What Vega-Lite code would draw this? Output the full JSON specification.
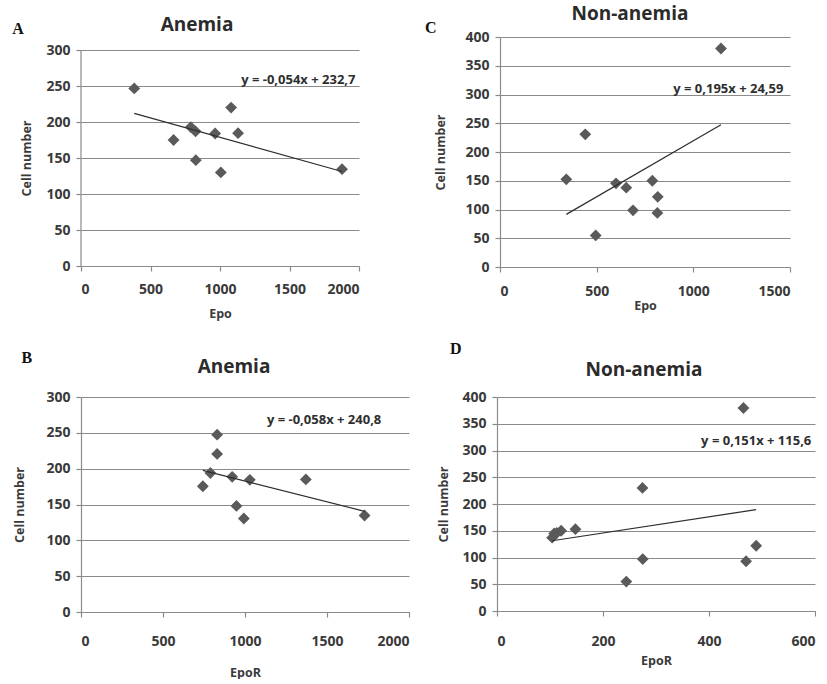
{
  "$schema": "https://vega.github.io/schema/vega-lite/v6.json",
  "padding": {"left": 12, "top": 5, "right": 0, "bottom": 0},
  "background": "white",
  "config": {
    "view": {"stroke": null},
    "font": "Open Sans",
    "title": {"font": "Open Sans", "fontSize": 19, "fontWeight": "bold", "color": "#2b2b2b", "frame": "group", "anchor": "middle"},
    "axis": {"labelFont": "Open Sans", "labelFontWeight": "bold", "labelFontSize": 14, "labelColor": "#3a3a3a", "titleFont": "Open Sans", "titleFontWeight": "bold", "titleFontSize": 12.5, "titleColor": "#3a3a3a", "domainColor": "#8a8a8a", "tickColor": "#8a8a8a", "gridColor": "#8a8a8a", "gridWidth": 1.2, "domainWidth": 1.2, "tickWidth": 1.2, "format": "d", "labelOverlap": false},
    "axisX": {"grid": false, "tickSize": 5, "labelPadding": 15, "titlePadding": 11},
    "axisY": {"grid": true, "tickSize": 5, "labelPadding": 6, "titlePadding": 7}
  },
  "datasets": {
    "a": [{"Epo": 383, "Cell": 246.6}, {"Epo": 666, "Cell": 175}, {"Epo": 790, "Cell": 193}, {"Epo": 824, "Cell": 187}, {"Epo": 826, "Cell": 147}, {"Epo": 965, "Cell": 184}, {"Epo": 1006, "Cell": 130}, {"Epo": 1080, "Cell": 220}, {"Epo": 1130, "Cell": 184.5}, {"Epo": 1878, "Cell": 134.5}],
    "aTrend": [{"Epo": 383, "Cell": 212.0}, {"Epo": 1878, "Cell": 131.3}],
    "c": [{"Epo": 343, "Cell": 152.5}, {"Epo": 441, "Cell": 230.7}, {"Epo": 495, "Cell": 55}, {"Epo": 600, "Cell": 145.5}, {"Epo": 653, "Cell": 138}, {"Epo": 688, "Cell": 98.6}, {"Epo": 788, "Cell": 150}, {"Epo": 816, "Cell": 122}, {"Epo": 814, "Cell": 94}, {"Epo": 1143, "Cell": 380}],
    "cTrend": [{"Epo": 343, "Cell": 91.5}, {"Epo": 1143, "Cell": 247.5}],
    "b": [{"EpoR": 743, "Cell": 175.5}, {"EpoR": 789, "Cell": 194}, {"EpoR": 830, "Cell": 247.5}, {"EpoR": 830, "Cell": 220.6}, {"EpoR": 922, "Cell": 188.6}, {"EpoR": 948, "Cell": 148}, {"EpoR": 993, "Cell": 130.5}, {"EpoR": 1029.5, "Cell": 184.4}, {"EpoR": 1371, "Cell": 185}, {"EpoR": 1729, "Cell": 134.7}],
    "bTrend": [{"EpoR": 743, "Cell": 197.7}, {"EpoR": 1729, "Cell": 140.5}],
    "d": [{"EpoR": 104, "Cell": 137}, {"EpoR": 108, "Cell": 145}, {"EpoR": 113, "Cell": 146}, {"EpoR": 121, "Cell": 150}, {"EpoR": 148, "Cell": 153}, {"EpoR": 244, "Cell": 55}, {"EpoR": 274.5, "Cell": 230}, {"EpoR": 275, "Cell": 97}, {"EpoR": 465, "Cell": 379.5}, {"EpoR": 470, "Cell": 93}, {"EpoR": 489, "Cell": 122}],
    "dTrend": [{"EpoR": 104, "Cell": 131.3}, {"EpoR": 489, "Cell": 189.4}],
    "one": [{"n": 1}]
  },
  "vconcat": [
    {
      "hconcat": [
        {
          "width": 278, "height": 229,
          "title": {"text": "Anemia", "offset": -14, "dx": -23},
          "layer": [
            {"data": {"name": "a"}, "mark": {"type": "point", "shape": "diamond", "filled": true, "size": 140, "color": "#5a5a5a", "opacity": 1},
             "encoding": {
               "x": {"field": "Epo", "type": "quantitative", "scale": {"domain": [0, 2000], "nice": false}, "axis": {"values": [0, 500, 1000, 1500, 2000], "title": "Epo", "labelPadding": 11}},
               "y": {"field": "Cell", "type": "quantitative", "scale": {"domain": [0, 318.06], "nice": false}, "axis": {"values": [0, 50, 100, 150, 200, 250, 300], "title": "Cell number", "domain": false, "titleY": 121, "titlePadding": 12}}}},
            {"data": {"name": "one"}, "mark": {"type": "rule", "color": "#8a8a8a", "strokeWidth": 1.2},
             "encoding": {"x": {"datum": 0, "type": "quantitative", "axis": {"values": [0, 500, 1000, 1500, 2000], "title": "Epo", "labelPadding": 11}}, "y": {"datum": 0, "type": "quantitative", "axis": {"values": [0, 50, 100, 150, 200, 250, 300], "title": "Cell number", "domain": false, "titleY": 121, "titlePadding": 12}}, "y2": {"datum": 300}}},
            {"data": {"name": "aTrend"}, "mark": {"type": "line", "color": "#2e2e2e", "strokeWidth": 1.2},
             "encoding": {"x": {"field": "Epo", "type": "quantitative", "axis": {"values": [0, 500, 1000, 1500, 2000], "title": "Epo", "labelPadding": 11}}, "y": {"field": "Cell", "type": "quantitative", "axis": {"values": [0, 50, 100, 150, 200, 250, 300], "title": "Cell number", "domain": false, "titleY": 121, "titlePadding": 12}}}},
            {"data": {"name": "one"}, "mark": {"type": "text", "align": "right", "baseline": "middle", "font": "Open Sans", "fontWeight": "bold", "fontSize": 13, "color": "#2e2e2e"},
             "encoding": {"x": {"datum": 1975, "type": "quantitative", "axis": {"values": [0, 500, 1000, 1500, 2000], "title": "Epo", "labelPadding": 11}}, "y": {"datum": 258, "type": "quantitative", "axis": {"values": [0, 50, 100, 150, 200, 250, 300], "title": "Cell number", "domain": false, "titleY": 121, "titlePadding": 12}}, "text": {"value": "y = -0,054x + 232,7"}}},
            {"data": {"name": "one"}, "mark": {"type": "text", "align": "center", "baseline": "middle", "font": "Liberation Serif", "fontWeight": "bold", "fontSize": 16, "color": "#111"},
             "encoding": {"x": {"datum": -453, "type": "quantitative", "axis": {"values": [0, 500, 1000, 1500, 2000], "title": "Epo", "labelPadding": 11}}, "y": {"datum": 329, "type": "quantitative", "axis": {"values": [0, 50, 100, 150, 200, 250, 300], "title": "Cell number", "domain": false, "titleY": 121, "titlePadding": 12}}, "text": {"value": "A"}}}
          ]
        },
        {
          "width": 290, "height": 230,
          "title": {"text": "Non-anemia", "offset": -4, "dx": -15},
          "layer": [
            {"data": {"name": "c"}, "mark": {"type": "point", "shape": "diamond", "filled": true, "size": 140, "color": "#5a5a5a", "opacity": 1},
             "encoding": {
               "x": {"field": "Epo", "type": "quantitative", "scale": {"domain": [0, 1500], "nice": false}, "axis": {"values": [0, 500, 1000, 1500], "title": "Epo", "labelPadding": 12, "titlePadding": 1}},
               "y": {"field": "Cell", "type": "quantitative", "scale": {"domain": [0, 400], "nice": false}, "axis": {"values": [0, 50, 100, 150, 200, 250, 300, 350, 400], "title": "Cell number", "titlePadding": 17}}}},
            {"data": {"name": "cTrend"}, "mark": {"type": "line", "color": "#2e2e2e", "strokeWidth": 1.2},
             "encoding": {"x": {"field": "Epo", "type": "quantitative", "axis": {"values": [0, 500, 1000, 1500], "title": "Epo", "labelPadding": 12, "titlePadding": 1}}, "y": {"field": "Cell", "type": "quantitative", "axis": {"values": [0, 50, 100, 150, 200, 250, 300, 350, 400], "title": "Cell number", "titlePadding": 17}}}},
            {"data": {"name": "one"}, "mark": {"type": "text", "align": "right", "baseline": "middle", "font": "Open Sans", "fontWeight": "bold", "fontSize": 13, "color": "#2e2e2e"},
             "encoding": {"x": {"datum": 1466, "type": "quantitative", "axis": {"values": [0, 500, 1000, 1500], "title": "Epo", "labelPadding": 12, "titlePadding": 1}}, "y": {"datum": 309, "type": "quantitative", "axis": {"values": [0, 50, 100, 150, 200, 250, 300, 350, 400], "title": "Cell number", "titlePadding": 17}}, "text": {"value": "y = 0,195x + 24,59"}}},
            {"data": {"name": "one"}, "mark": {"type": "text", "align": "center", "baseline": "middle", "font": "Liberation Serif", "fontWeight": "bold", "fontSize": 16, "color": "#111"},
             "encoding": {"x": {"datum": -358, "type": "quantitative", "axis": {"values": [0, 500, 1000, 1500], "title": "Epo", "labelPadding": 12, "titlePadding": 1}}, "y": {"datum": 415, "type": "quantitative", "axis": {"values": [0, 50, 100, 150, 200, 250, 300, 350, 400], "title": "Cell number", "titlePadding": 17}}, "text": {"value": "C"}}}
          ]
        }
      ],
      "spacing": 65
    },
    {
      "hconcat": [
        {
          "width": 328, "height": 215,
          "title": {"text": "Anemia", "offset": -27, "dx": -11},
          "layer": [
            {"data": {"name": "b"}, "mark": {"type": "point", "shape": "diamond", "filled": true, "size": 140, "color": "#5a5a5a", "opacity": 1},
             "encoding": {
               "x": {"field": "EpoR", "type": "quantitative", "scale": {"domain": [0, 2000], "nice": false}, "axis": {"values": [0, 500, 1000, 1500, 2000], "title": "EpoR", "labelPadding": 17, "titlePadding": 18}},
               "y": {"field": "Cell", "type": "quantitative", "scale": {"domain": [0, 300], "nice": false}, "axis": {"values": [0, 50, 100, 150, 200, 250, 300], "title": "Cell number", "titlePadding": 19}}}},
            {"data": {"name": "bTrend"}, "mark": {"type": "line", "color": "#2e2e2e", "strokeWidth": 1.2},
             "encoding": {"x": {"field": "EpoR", "type": "quantitative", "axis": {"values": [0, 500, 1000, 1500, 2000], "title": "EpoR", "labelPadding": 17, "titlePadding": 18}}, "y": {"field": "Cell", "type": "quantitative", "axis": {"values": [0, 50, 100, 150, 200, 250, 300], "title": "Cell number", "titlePadding": 19}}}},
            {"data": {"name": "one"}, "mark": {"type": "text", "align": "right", "baseline": "middle", "font": "Open Sans", "fontWeight": "bold", "fontSize": 13, "color": "#2e2e2e"},
             "encoding": {"x": {"datum": 1831, "type": "quantitative", "axis": {"values": [0, 500, 1000, 1500, 2000], "title": "EpoR", "labelPadding": 17, "titlePadding": 18}}, "y": {"datum": 268, "type": "quantitative", "axis": {"values": [0, 50, 100, 150, 200, 250, 300], "title": "Cell number", "titlePadding": 19}}, "text": {"value": "y = -0,058x + 240,8"}}},
            {"data": {"name": "one"}, "mark": {"type": "text", "align": "center", "baseline": "middle", "font": "Liberation Serif", "fontWeight": "bold", "fontSize": 16, "color": "#111"},
             "encoding": {"x": {"datum": -331, "type": "quantitative", "axis": {"values": [0, 500, 1000, 1500, 2000], "title": "EpoR", "labelPadding": 17, "titlePadding": 18}}, "y": {"datum": 354, "type": "quantitative", "axis": {"values": [0, 50, 100, 150, 200, 250, 300], "title": "Cell number", "titlePadding": 19}}, "text": {"value": "B"}}}
          ]
        },
        {
          "width": 318, "height": 214,
          "title": {"text": "Non-anemia", "offset": -39, "dx": -12},
          "layer": [
            {"data": {"name": "d"}, "mark": {"type": "point", "shape": "diamond", "filled": true, "size": 140, "color": "#5a5a5a", "opacity": 1},
             "encoding": {
               "x": {"field": "EpoR", "type": "quantitative", "scale": {"domain": [0, 600], "nice": false}, "axis": {"values": [0, 200, 400, 600], "title": "EpoR", "labelPadding": 18, "titlePadding": 6}},
               "y": {"field": "Cell", "type": "quantitative", "scale": {"domain": [0, 400], "nice": false}, "axis": {"values": [0, 50, 100, 150, 200, 250, 300, 350, 400], "title": "Cell number", "titlePadding": 11}}}},
            {"data": {"name": "dTrend"}, "mark": {"type": "line", "color": "#2e2e2e", "strokeWidth": 1.2},
             "encoding": {"x": {"field": "EpoR", "type": "quantitative", "axis": {"values": [0, 200, 400, 600], "title": "EpoR", "labelPadding": 18, "titlePadding": 6}}, "y": {"field": "Cell", "type": "quantitative", "axis": {"values": [0, 50, 100, 150, 200, 250, 300, 350, 400], "title": "Cell number", "titlePadding": 11}}}},
            {"data": {"name": "one"}, "mark": {"type": "text", "align": "right", "baseline": "middle", "font": "Open Sans", "fontWeight": "bold", "fontSize": 13, "color": "#2e2e2e"},
             "encoding": {"x": {"datum": 593, "type": "quantitative", "axis": {"values": [0, 200, 400, 600], "title": "EpoR", "labelPadding": 18, "titlePadding": 6}}, "y": {"datum": 317, "type": "quantitative", "axis": {"values": [0, 50, 100, 150, 200, 250, 300, 350, 400], "title": "Cell number", "titlePadding": 11}}, "text": {"value": "y = 0,151x + 115,6"}}},
            {"data": {"name": "one"}, "mark": {"type": "text", "align": "center", "baseline": "middle", "font": "Liberation Serif", "fontWeight": "bold", "fontSize": 16, "color": "#111"},
             "encoding": {"x": {"datum": -78, "type": "quantitative", "axis": {"values": [0, 200, 400, 600], "title": "EpoR", "labelPadding": 18, "titlePadding": 6}}, "y": {"datum": 490, "type": "quantitative", "axis": {"values": [0, 50, 100, 150, 200, 250, 300, 350, 400], "title": "Cell number", "titlePadding": 11}}, "text": {"value": "D"}}}
          ]
        }
      ],
      "spacing": 27
    }
  ],
  "spacing": 20
}
